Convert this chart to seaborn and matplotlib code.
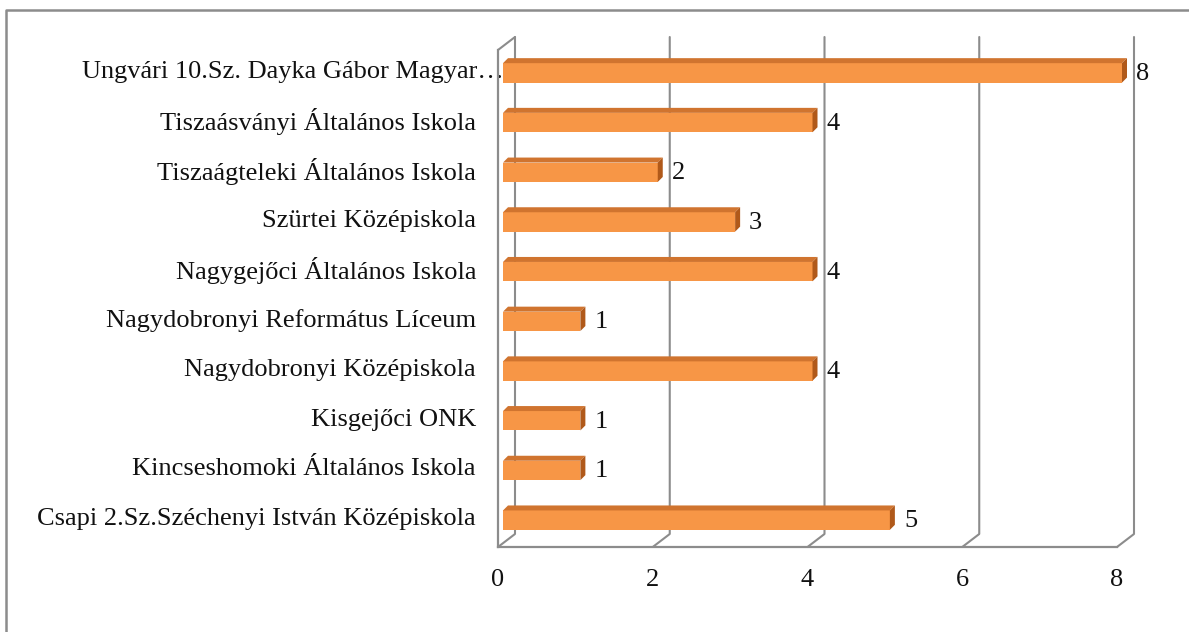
import numpy as np
import pandas as pd
import matplotlib
matplotlib.use("Agg")
import matplotlib.pyplot as plt
import seaborn as sns
from matplotlib.transforms import ScaledTranslation, IdentityTransform, blended_transform_factory
from matplotlib.lines import Line2D
from matplotlib.patches import Polygon

# ---- data ----
schools = [
    "Ungvári 10.Sz. Dayka Gábor Magyar…",
    "Tiszaásványi Általános Iskola",
    "Tiszaágteleki Általános Iskola",
    "Szürtei Középiskola",
    "Nagygejőci Általános Iskola",
    "Nagydobronyi Református Líceum",
    "Nagydobronyi Középiskola",
    "Kisgejőci ONK",
    "Kincseshomoki Általános Iskola",
    "Csapi 2.Sz.Széchenyi István Középiskola",
]
counts = [8, 4, 2, 3, 4, 1, 4, 1, 1, 5]
x_ticks = [0, 2, 4, 6, 8]

# ---- style ----
sns.set_style("white")
plt.rcParams['font.family'] = ['Liberation Serif', 'DejaVu Serif']
FS = 19
GRAY = '#8C8C8C'
FRONT = '#F79646'
TOP = '#D0742F'
SIDE = '#B0591A'

W, H = 1189, 632
fig = plt.figure(figsize=(W / 100, H / 100), dpi=100)
ax = fig.add_axes([498 / W, (H - 547) / H, (1117 - 498) / W, (547 - 50) / H])

df = pd.DataFrame({'school': schools, 'count': counts})
sns.barplot(data=df, x='count', y='school', orient='h', color=FRONT,
            saturation=1, width=0.39, ax=ax, zorder=3, linewidth=0)
ax.set_xlim(0, 8)
ax.set_ylim(len(schools) - 0.5, -0.5)
ax.set_xlabel('')
ax.set_ylabel('')

for s in ['top', 'right']:
    ax.spines[s].set_visible(False)
for s in ['left', 'bottom']:
    ax.spines[s].set_color(GRAY)
    ax.spines[s].set_linewidth(1.6)
    ax.spines[s].set_zorder(4)

ax.set_xticks(x_ticks)
ax.set_xticklabels([str(t) for t in x_ticks], fontsize=FS, color='#111111')
ax.tick_params(axis='x', length=5, width=1.5, color=GRAY, direction='out', pad=11)
ax.set_yticks(np.arange(-0.5, len(schools), 1.0))
ax.set_yticklabels([])
ax.tick_params(axis='y', length=5, width=1.5, color=GRAY, direction='out')

# category labels
ylab_tr = blended_transform_factory(ax.transAxes, ax.transData)
for i, name in enumerate(schools):
    dx = -22 if not name.endswith('…') else 6
    ax.text(0, i, name, ha='right', va='center', fontsize=FS, color='#111111',
            transform=ylab_tr + ScaledTranslation(dx / 100, 3 / 100, fig.dpi_scale_trans),
            clip_on=False)

# ---- 3D walls / gridlines ----
DX, DY = 17, 13
to_px = ax.transData.transform
ymin_d, ymax_d = len(schools) - 0.5, -0.5
for v in x_ticks:
    fx, fyb = to_px((v, ymin_d))
    _, fyt = to_px((v, ymax_d))
    ax.add_artist(Line2D([fx + DX, fx + DX, fx], [fyt + DY, fyb + DY, fyb],
                         transform=IdentityTransform(), color=GRAY, lw=1.5,
                         zorder=1, clip_on=False))
fx, fyt = to_px((0, ymax_d))
ax.add_artist(Line2D([fx, fx + DX], [fyt, fyt + DY], transform=IdentityTransform(),
                     color=GRAY, lw=1.5, zorder=1, clip_on=False))

# ---- 3D bars ----
BX, BY = 5, 2
DX2, DY2 = 5, 5
shift = ScaledTranslation(BX / 100, BY / 100, fig.dpi_scale_trans)
for p in list(ax.patches):
    x0, y0, w, h = p.get_x(), p.get_y(), p.get_width(), p.get_height()
    (ax0, ay0), (ax1, ay1) = to_px((x0, y0)), to_px((x0 + w, y0 + h))
    L, R = min(ax0, ax1) + BX, max(ax0, ax1) + BX
    B, T = min(ay0, ay1) + BY, max(ay0, ay1) + BY
    p.set_transform(ax.transData + shift)
    p.set_zorder(5)
    p.set_clip_on(False)
    top = Polygon([(L, T), (R, T), (R + DX2, T + DY2), (L + DX2, T + DY2)],
                  closed=True, transform=IdentityTransform(), facecolor=TOP,
                  edgecolor='none', zorder=5, clip_on=False)
    side = Polygon([(R, B), (R, T), (R + DX2, T + DY2), (R + DX2, B + DY2)],
                   closed=True, transform=IdentityTransform(), facecolor=SIDE,
                   edgecolor='none', zorder=5, clip_on=False)
    ax.add_artist(top)
    ax.add_artist(side)

# value labels
for i, v in enumerate(counts):
    ax.text(v, i, str(v), ha='left', va='center', fontsize=FS, color='#111111',
            transform=ax.transData + ScaledTranslation((BX + 14) / 100, (BY - 1) / 100, fig.dpi_scale_trans),
            zorder=6, clip_on=False)

# figure frame
fig.add_artist(Line2D([6 / W, 6 / W, 1], [0, (H - 10) / H, (H - 10) / H],
                      transform=fig.transFigure, color=GRAY, lw=1.8))

fig.savefig('out.png', dpi=100)
